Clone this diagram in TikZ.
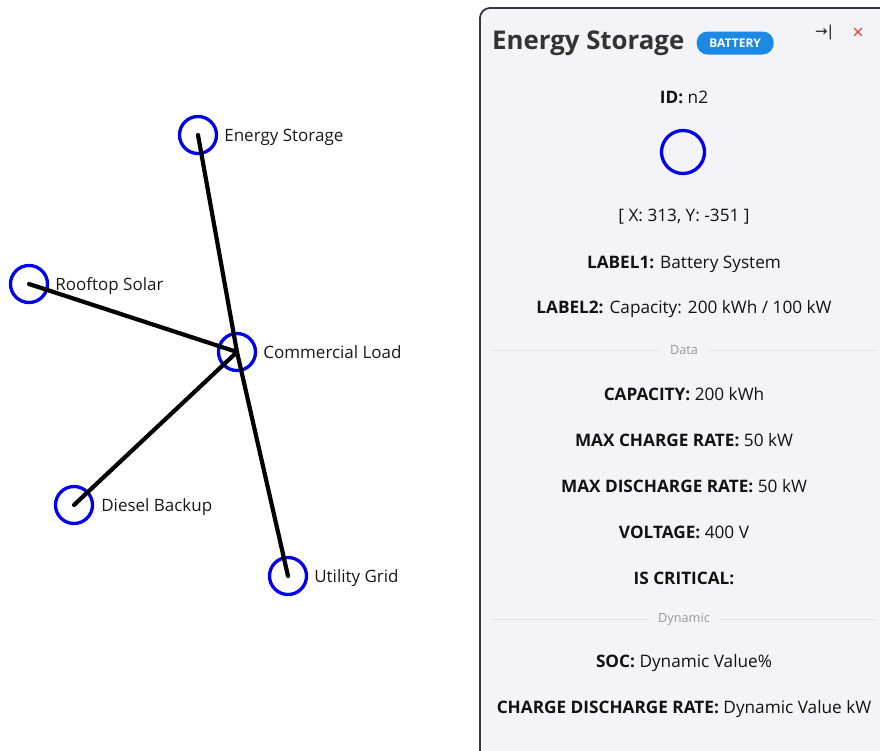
\documentclass[tikz,border=0pt]{standalone}
\usepackage{fontspec}
\setmainfont{Open Sans}
\newfontfamily\kyhieu{DejaVu Sans}
\usetikzlibrary{positioning}
\definecolor{xanhnut}{RGB}{0,0,238}
\definecolor{nenkhung}{RGB}{244,244,248}
\definecolor{vienkhung}{RGB}{55,55,55}
\definecolor{xamchu}{RGB}{150,150,155}
\definecolor{xamvach}{RGB}{228,228,232}
\definecolor{xanhnhan}{RGB}{30,136,229}
\definecolor{dotat}{RGB}{235,60,60}
\begin{document}
\begin{tikzpicture}[
			% kiểu cho đồ thị bên trái
			nut/.style={circle, draw=xanhnut, line width=3.3pt, minimum size=37pt, inner sep=0pt}, % vòng tròn xanh
			canh/.style={line width=4.2pt, black}, % đường nối đen
			ten/.style={font=\fontsize{17}{20}\selectfont, text=black!90, inner sep=0pt, anchor=base west}, % tên nút
			% kiểu cho khung thông tin bên phải
			khung/.style={draw=vienkhung, line width=1.8pt, fill=nenkhung, rounded corners=10pt},
			dong/.style={font=\fontsize{17.2}{20}\selectfont, text=black!93, inner sep=0pt}, % một dòng thông tin
			tach/.style={font=\fontsize{12.7}{15}\selectfont, text=xamchu, inner sep=0pt}, % chữ trên vạch chia
			vach/.style={draw=xamvach, line width=1pt},
			x=1pt, y=-1pt, line cap=round]
			\useasboundingbox (0,0) rectangle (880,750);

			% Các nút của lưới điện
			\node[nut] (load) at (237,352) {};    % Commercial Load
			\node[nut] (storage) at (198,135) {}; % Energy Storage
			\node[nut] (solar) at (29,284) {};    % Rooftop Solar
			\node[nut] (diesel) at (74,505) {};   % Diesel Backup
			\node[nut] (grid) at (288,576) {};    % Utility Grid

			% Tên các nút
			\node[ten] (tstorage) at ([xshift=6pt, yshift=-6pt]storage.east) {Energy Storage};
			\node[ten] (tsolar) at ([xshift=6pt, yshift=-6pt]solar.east) {Rooftop Solar};
			\node[ten] (tload) at ([xshift=6pt, yshift=-6pt]load.east) {Commercial Load};
			\node[ten] (tdiesel) at ([xshift=7pt, yshift=-6pt]diesel.east) {Diesel Backup};
			\node[ten] (tgrid) at ([xshift=6pt, yshift=-6pt]grid.east) {Utility Grid};

			% Các cạnh nối (vẽ đè lên vòng tròn)
			\draw[canh] (storage.center) -- (load.center);
			\draw[canh] (solar.center) -- (load.center);
			\draw[canh] (diesel.center) -- (load.center);
			\draw[canh] (grid.center) -- (load.center);

			% Khung thông tin
			\draw[khung] (480,8) rectangle (900,770);
			\node[anchor=west, inner sep=0pt, font=\fontsize{25.8}{30}\selectfont\bfseries, text=black!80] (tieude) at (492,43) {Energy Storage};
			\node[fill=xanhnhan, text=white, rounded corners=11pt, minimum width=77pt, minimum height=23pt, inner sep=0pt,
				font=\fontsize{12}{14}\selectfont\bfseries, right=12pt of tieude] (nhan) {BATTERY};
			\node[inner sep=0pt, font=\kyhieu\fontsize{15}{18}\selectfont, text=black!85] (thugon) at (824,33) {→|};
			\node[inner sep=0pt, font=\fontsize{20}{22}\selectfont, text=dotat] (dong) at (858,34) {×};

			\node[dong] (id) at (684,97) {\textbf{ID:} n2};
			\node[nut, minimum size=43pt] (hinh) at (683,152) {};
			\node[dong] (toado) at (684,217) {[ X: 313, Y: -351 ]};
			\node[dong] (nhan1) at (684,264) {\textbf{LABEL1:} Battery System};
			\node[dong] (nhan2) at (684,309) {\textbf{LABEL2:} Capacity: 200 kWh / 100 kW};

			% Vạch chia "Data"
			\node[tach] (data) at (684,350) {Data};
			\coordinate (datatrai) at (491,350);
			\coordinate (dataphai) at (876,350);
			\draw[vach] (datatrai) -- ([xshift=-10pt]data.west);
			\draw[vach] ([xshift=10pt]data.east) -- (dataphai);

			\node[dong] (dungluong) at (684,394) {\textbf{CAPACITY:} 200 kWh};
			\node[dong] (sac) at (684,440) {\textbf{MAX CHARGE RATE:} 50 kW};
			\node[dong] (xa) at (684,486) {\textbf{MAX DISCHARGE RATE:} 50 kW};
			\node[dong] (dienap) at (684,532) {\textbf{VOLTAGE:} 400 V};
			\node[dong] (quantrong) at (684,578) {\textbf{IS CRITICAL:}};

			% Vạch chia "Dynamic"
			\node[tach] (dyn) at (684,619) {Dynamic};
			\coordinate (dyntrai) at (491,619);
			\coordinate (dynphai) at (876,619);
			\draw[vach] (dyntrai) -- ([xshift=-10pt]dyn.west);
			\draw[vach] ([xshift=10pt]dyn.east) -- (dynphai);

			\node[dong] (soc) at (684,663) {\textbf{SOC:} Dynamic Value\%};
			\node[dong] (tocdo) at (684,709) {\textbf{CHARGE DISCHARGE RATE:} Dynamic Value kW};

		\end{tikzpicture}
\end{document}
